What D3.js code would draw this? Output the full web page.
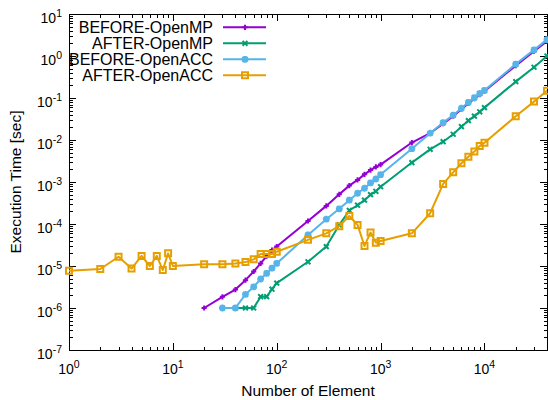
<!DOCTYPE html>
<html>
<head>
<meta charset="utf-8">
<script src="https://cdn.jsdelivr.net/npm/d3@7"></script>
<style>
  body { margin: 0; background: #fff; }
  text { font-family: "Liberation Sans", Arial, Helvetica, sans-serif; fill: #000; }
</style>
</head>
<body>
<svg id="chart" width="548" height="400"></svg>
<script>
// Problem sizes (number of elements)
const sizes = [1, 2, 3, 4, 5, 6, 7, 8, 9, 10,
  20, 30, 40, 50, 60, 70, 80, 90, 100,
  200, 300, 400, 500, 600, 700, 800, 900, 1000,
  2000, 3000, 4000, 5000, 6000, 7000, 8000, 9000, 10000,
  20000, 30000, 40000];

// Execution times in seconds (null = not measured)
const beforeOpenMP = [null, null, null, null, null, null, null, null, null, null,
  1.0e-6, 1.85e-6, 2.75e-6, 4.6e-6, 7.4e-6, 1.15e-5, 1.72e-5, 2.4e-5, 2.9e-5,
  1.18e-4, 2.7e-4, 5.1e-4, 8.2e-4, 1.12e-3, 1.52e-3, 1.92e-3, 2.28e-3, 2.6e-3,
  8.7e-3, 1.45e-2, 2.45e-2, 3.7e-2, 5.4e-2, 7.4e-2, 9.6e-2, 0.12, 0.145,
  0.59, 1.3, 2.25];

const afterOpenMP = [null, null, null, null, null, null, null, null, null, null,
  null, null, 1.0e-6, 1.0e-6, 1.0e-6, 1.86e-6, 1.86e-6, 2.8e-6, 3.9e-6,
  1.26e-5, 2.9e-5, 9.5e-5, 2.1e-4, 2.8e-4, 3.7e-4, 5.0e-4, 6.0e-4, 7.7e-4,
  2.9e-3, 6.0e-3, 9.1e-3, 1.37e-2, 2.08e-2, 2.9e-2, 3.7e-2, 4.7e-2, 5.9e-2,
  0.245, 0.54, 1.0];

const beforeOpenACC = [null, null, null, null, null, null, null, null, null, null,
  null, 1.0e-6, 1.0e-6, 2.1e-6, 3.2e-6, 4.9e-6, 6.7e-6, 8.9e-6, 1.15e-5,
  5.5e-5, 1.3e-4, 2.3e-4, 3.7e-4, 5.4e-4, 7.1e-4, 9.5e-4, 1.18e-3, 1.5e-3,
  6.2e-3, 1.45e-2, 2.6e-2, 3.9e-2, 5.7e-2, 7.9e-2, 0.102, 0.128, 0.152,
  0.64, 1.4, 2.45];

const afterOpenACC = [7.7e-6, 8.5e-6, 1.66e-5, 8.7e-6, 1.74e-5, 1.0e-5, 1.74e-5, 8.0e-6, 2.0e-5, 1.0e-5,
  1.1e-5, 1.1e-5, 1.14e-5, 1.24e-5, 1.44e-5, 1.93e-5, 1.93e-5, 1.93e-5, 2.19e-5,
  4.2e-5, 6.0e-5, 8.9e-5, 1.55e-4, 9.5e-5, 3.0e-5, 6.3e-5, 3.6e-5, 3.95e-5,
  6.0e-5, 1.8e-4, 9.0e-4, 1.7e-3, 2.8e-3, 4.0e-3, 5.3e-3, 7.2e-3, 8.6e-3,
  0.0366, 0.082, 0.149];

const seriesNames = ["BEFORE-OpenMP", "AFTER-OpenMP", "BEFORE-OpenACC", "AFTER-OpenACC"];
const seriesValues = [beforeOpenMP, afterOpenMP, beforeOpenACC, afterOpenACC];
const seriesColors = ["#9400d3", "#009e73", "#56b4e9", "#e69f00"];

const xExponents = [0, 1, 2, 3, 4];
const yExponents = [1, 0, -1, -2, -3, -4, -5, -6, -7];
const xTitle = "Number of Element";
const yTitle = "Execution Time [sec]";

// Plot area
const plotLeft = 69, plotRight = 547, plotTop = 14, plotBottom = 350;

const svg = d3.select("#chart");
const x = d3.scaleLog().domain([1, 40000]).range([plotLeft, plotRight]);
const y = d3.scaleLog().domain([1e-7, 10]).range([plotBottom, plotTop]);

// Major and minor tick positions on the log axes
const xMajor = xExponents.map(e => Math.pow(10, e));
const xMinor = [];
for (let e = 0; e <= 4; e++) for (let m = 2; m <= 9; m++) {
  const v = m * Math.pow(10, e);
  if (v <= 40000) xMinor.push(v);
}
const yMajor = yExponents.map(e => Math.pow(10, e));
const yMinor = [];
for (let e = -7; e < 1; e++) for (let m = 2; m <= 9; m++) yMinor.push(m * Math.pow(10, e));

const majorLen = 7, minorLen = 3.5;
function tickAxis(gen, scale, values, len, tx, ty) {
  svg.append("g")
    .attr("transform", `translate(${tx},${ty})`)
    .attr("shape-rendering", "crispEdges")
    .call(gen(scale).tickValues(values).tickSize(-len).tickFormat(""))
    .call(g => g.select(".domain").remove())
    .call(g => g.selectAll("line").attr("stroke", "#000").attr("stroke-width", 1));
}
// inward ticks on all four sides
tickAxis(d3.axisBottom, x, xMajor, majorLen, 0, plotBottom);
tickAxis(d3.axisBottom, x, xMinor, minorLen, 0, plotBottom);
tickAxis(d3.axisTop, x, xMajor, majorLen, 0, plotTop);
tickAxis(d3.axisTop, x, xMinor, minorLen, 0, plotTop);
tickAxis(d3.axisLeft, y, yMajor, majorLen, plotLeft, 0);
tickAxis(d3.axisLeft, y, yMinor, minorLen, plotLeft, 0);
tickAxis(d3.axisRight, y, yMajor, majorLen, plotRight, 0);
tickAxis(d3.axisRight, y, yMinor, minorLen, plotRight, 0);

// Border
svg.append("rect")
  .attr("x", plotLeft).attr("y", plotTop)
  .attr("width", plotRight - plotLeft).attr("height", plotBottom - plotTop)
  .attr("fill", "none").attr("stroke", "#000").attr("stroke-width", 1)
  .attr("shape-rendering", "crispEdges");

// Power-of-ten tick labels
function powerLabel(sel, exp) {
  sel.append("tspan").text("10");
  sel.append("tspan").attr("dy", -6).attr("font-size", 10.5).text(String(exp));
}
xExponents.forEach(e => {
  const t = svg.append("text")
    .attr("x", x(Math.pow(10, e)))
    .attr("y", plotBottom + 23.5)
    .attr("text-anchor", "middle")
    .attr("font-size", 14);
  powerLabel(t, e);
});
yExponents.forEach(e => {
  const t = svg.append("text")
    .attr("x", 62)
    .attr("y", y(Math.pow(10, e)) + 8.5)
    .attr("text-anchor", "end")
    .attr("font-size", 14);
  powerLabel(t, e);
});

// Axis titles
svg.append("text")
  .attr("x", (plotLeft + plotRight) / 2).attr("y", 396)
  .attr("text-anchor", "middle").attr("font-size", 15.5)
  .text(xTitle);
svg.append("text")
  .attr("transform", `translate(20.5,${(plotTop + plotBottom) / 2}) rotate(-90)`)
  .attr("text-anchor", "middle").attr("font-size", 15.5)
  .text(yTitle);

// Point shapes drawn as strokes
const plusType = { draw(ctx, r) { ctx.moveTo(-r, 0); ctx.lineTo(r, 0); ctx.moveTo(0, -r); ctx.lineTo(0, r); } };
const crossType = { draw(ctx, r) { ctx.moveTo(-r, -r); ctx.lineTo(r, r); ctx.moveTo(-r, r); ctx.lineTo(r, -r); } };
const starType = { draw(ctx, r) {
  ctx.moveTo(-r, 0); ctx.lineTo(r, 0); ctx.moveTo(0, -r); ctx.lineTo(0, r);
  const d = r * 0.75;
  ctx.moveTo(-d, -d); ctx.lineTo(d, d); ctx.moveTo(-d, d); ctx.lineTo(d, -d);
} };
const squareType = { draw(ctx, r) { ctx.rect(-r, -r, 2 * r, 2 * r); } };
const shapes = [
  { type: plusType, r: 2.6, w: 2 },
  { type: crossType, r: 2.4, w: 2 },
  { type: starType, r: 3.4, w: 2.2 },
  { type: squareType, r: 3.0, w: 2 }
];

const line = d3.line()
  .defined(d => d.t != null)
  .x(d => x(d.n))
  .y(d => y(d.t));

const plot = svg.append("g");
seriesValues.forEach((vals, i) => {
  const pts = sizes.map((n, k) => ({ n, t: vals[k] }));
  const g = plot.append("g");
  g.append("path")
    .datum(pts)
    .attr("fill", "none")
    .attr("stroke", seriesColors[i])
    .attr("stroke-width", 2)
    .attr("stroke-linejoin", "round")
    .attr("d", line);
  const sym = d3.symbol().type(shapes[i].type).size(shapes[i].r);
  g.selectAll("path.pt")
    .data(pts.filter(d => d.t != null))
    .join("path")
    .attr("class", "pt")
    .attr("transform", d => `translate(${x(d.n)},${y(d.t)})`)
    .attr("d", sym)
    .attr("fill", "none")
    .attr("stroke", seriesColors[i])
    .attr("stroke-width", shapes[i].w);
});

// Legend
const legend = svg.append("g");
seriesNames.forEach((name, i) => {
  const cy = 27.3 + i * 16;
  legend.append("text")
    .attr("x", 213).attr("y", cy + 5.5)
    .attr("text-anchor", "end").attr("font-size", 16)
    .text(name);
  legend.append("line")
    .attr("x1", 223).attr("x2", 266)
    .attr("y1", cy).attr("y2", cy)
    .attr("stroke", seriesColors[i]).attr("stroke-width", 2);
  legend.append("path")
    .attr("transform", `translate(245,${cy})`)
    .attr("d", d3.symbol().type(shapes[i].type).size(shapes[i].r))
    .attr("fill", "none")
    .attr("stroke", seriesColors[i])
    .attr("stroke-width", shapes[i].w);
});
</script>
</body>
</html>
